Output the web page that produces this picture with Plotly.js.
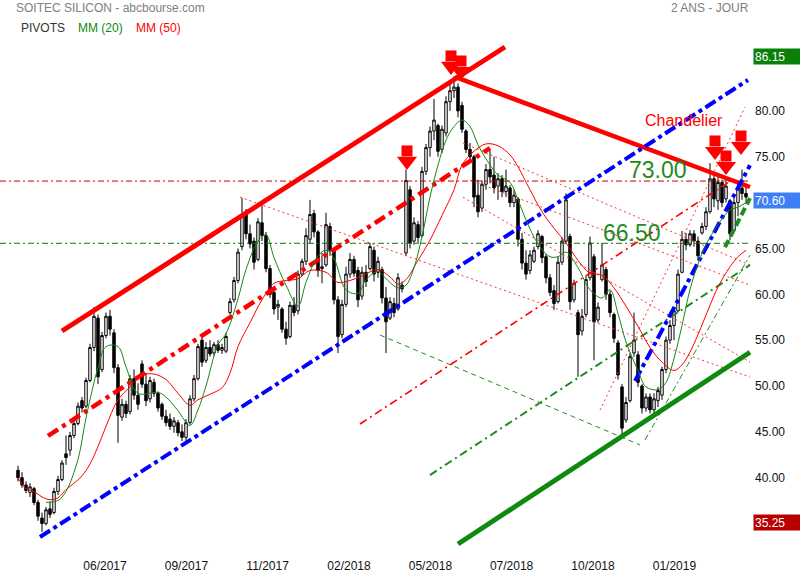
<!DOCTYPE html>
<html>
<head>
<meta charset="utf-8">
<script src="https://cdn.plot.ly/plotly-3.0.1.min.js"></script>
<style>html,body{margin:0;padding:0;background:#fff}#chart{width:800px;height:580px}</style>
</head>
<body>
<div id="chart"></div>
<script>
// ---------- DATA ----------
const tickPos = [21.75, 42.1, 62.4, 82.75, 103.1, 123.4, 143.75, 164.1];
const tickText = ['06/2017','09/2017','11/2017','02/2018','05/2018','07/2018','10/2018','01/2019'];
const priceTicks = [40, 45, 50, 55, 60, 65, 75, 80];

const open = [40.8,40.0,39.2,38.4,38.8,37.3,35.6,35.0,36.6,36.2,38.5,39.8,42.6,43.0,44.6,45.9,48.4,47.8,50.6,54.2,
57.4,51.8,55.5,57.6,55.8,52.0,46.6,48.0,47.2,50.8,49.0,52.4,50.2,48.6,50.4,49.2,48.0,46.7,46.4,45.6,
46.0,45.0,44.4,46.0,48.6,50.8,55.0,52.8,54.2,53.6,54.5,53.9,53.8,58.0,59.4,61.5,65.2,68.9,66.6,65.8,
63.8,67.8,66.4,62.8,60.2,58.6,58.4,56.2,55.4,58.8,58.2,62.2,63.6,66.0,68.8,66.8,62.8,63.2,67.4,64.8,
59.4,55.6,58.9,62.2,63.8,62.6,59.8,62.4,62.8,64.8,62.4,62.7,59.6,57.4,59.0,58.4,61.0,64.5,71.4,65.8,
67.6,66.4,73.4,76.0,77.8,78.4,75.8,77.6,81.0,82.2,82.6,80.6,77.8,75.8,75.0,70.8,69.4,72.0,73.6,73.0,
71.8,72.6,71.2,71.6,70.0,70.4,66.0,63.4,62.6,63.6,65.2,66.3,64.1,61.8,60.4,59.2,63.5,65.8,66.3,59.4,
58.0,56.0,57.8,61.8,64.1,57.2,61.6,62.7,60.0,57.8,54.7,49.9,46.3,48.4,53.6,53.4,50.0,47.6,48.8,47.4,
48.4,49.0,51.8,55.0,56.6,58.2,62.4,66.0,65.4,66.6,65.8,66.7,67.4,69.0,72.6,70.2,72.2,70.4,70.2,67.0,
70.0,71.6,71.0];
const high = [41.3,40.6,39.6,39.4,39.0,37.6,36.2,36.8,37.4,38.9,40.2,41.9,44.6,45.0,46.2,48.2,48.8,50.9,54.6,58.6,
57.8,55.9,58.0,58.3,56.2,52.4,48.6,48.4,51.2,51.8,50.3,52.8,51.4,51.0,50.8,49.4,48.2,47.4,47.0,46.6,
46.3,45.8,46.4,49.0,51.2,54.6,55.3,54.8,55.0,54.8,55.0,54.6,55.8,59.6,61.9,65.0,70.5,69.3,67.6,66.2,
68.3,69.7,66.8,63.2,60.6,59.4,58.6,57.0,59.2,59.7,62.6,63.9,67.2,70.3,69.2,67.0,64.5,68.9,67.8,65.0,
59.8,59.4,63.0,64.5,64.2,63.0,63.0,63.2,65.6,65.2,64.1,63.0,60.8,59.7,59.6,62.3,61.4,73.6,71.8,68.4,
68.0,73.9,76.4,78.3,81.3,78.6,78.4,81.6,83.0,83.8,83.0,81.0,78.0,76.5,75.2,72.5,72.4,74.2,75.7,75.0,
73.2,73.0,73.6,71.9,71.4,70.6,66.7,64.8,64.8,65.2,67.0,66.5,64.4,62.2,61.0,64.1,66.2,71.0,66.6,61.6,
58.3,58.4,62.0,66.3,64.4,59.1,65.6,63.0,60.4,58.0,55.0,50.2,48.8,53.6,58.0,53.8,50.2,49.2,49.2,49.2,
49.9,52.1,55.4,57.2,58.6,62.7,66.9,66.7,67.0,67.0,66.3,67.8,69.5,74.3,73.2,72.8,72.5,72.5,70.4,70.6,
72.1,73.6,71.8];
const low = [39.6,38.9,38.3,37.9,37.0,35.3,34.1,34.8,35.6,36.0,38.1,39.6,41.4,42.4,44.3,45.7,47.1,47.6,50.4,53.8,
50.2,51.5,55.2,55.5,51.4,43.8,46.2,46.5,46.9,48.5,47.4,49.8,47.8,48.2,48.8,47.2,46.3,45.6,45.2,44.9,
44.5,44.0,43.8,45.8,48.3,50.6,52.1,52.5,53.2,53.3,53.6,53.5,53.6,57.8,59.1,61.2,64.8,66.0,65.0,62.7,
63.6,65.8,62.4,59.6,57.8,57.2,55.8,54.5,55.2,57.6,57.8,62.0,63.2,65.6,66.2,61.9,61.2,63.0,64.2,58.9,
53.6,55.2,58.6,61.8,61.9,58.6,59.4,60.8,62.6,61.4,61.8,59.0,53.6,57.2,57.5,58.2,60.2,64.2,65.0,65.4,
65.5,66.2,73.0,75.0,76.8,75.0,75.4,77.2,80.0,81.4,79.3,77.6,75.4,74.3,69.5,68.4,69.0,71.4,72.1,71.0,
70.3,70.6,70.6,69.5,69.5,65.2,62.7,61.6,62.2,63.4,64.9,63.4,61.2,59.8,58.3,59.0,63.2,65.6,58.3,59.1,
51.0,55.5,57.5,61.5,52.8,56.9,61.4,59.4,57.5,54.7,50.7,44.4,46.0,48.2,53.2,49.9,47.0,47.2,47.0,47.0,
47.7,48.5,51.4,54.6,55.0,58.0,62.3,64.8,65.2,65.2,63.7,66.5,67.0,68.8,69.5,69.2,69.5,70.0,65.9,66.8,
68.5,70.3,70.0];
const close = [40.0,39.2,38.6,39.0,37.3,35.8,35.0,36.5,36.0,38.5,39.8,41.6,42.2,44.6,45.9,47.8,47.6,50.6,54.2,57.6,
51.0,55.5,57.6,56.2,52.0,46.8,48.0,47.0,50.8,49.0,48.0,50.2,48.4,50.6,49.2,47.6,46.7,46.0,45.6,46.2,
44.9,44.4,46.0,48.6,50.8,54.3,52.6,54.2,53.5,54.5,53.9,54.2,55.4,59.2,61.5,64.6,68.6,66.6,65.5,63.5,
67.9,66.4,62.8,60.0,58.4,58.9,56.2,55.2,58.8,58.0,62.2,63.6,66.4,68.7,66.8,62.6,63.0,67.6,64.8,59.4,
55.4,58.9,62.2,63.8,62.3,59.4,62.4,61.4,65.2,62.2,63.6,59.6,57.0,59.2,58.0,61.8,60.6,72.4,65.6,67.8,
66.2,73.4,76.0,77.8,79.0,75.6,78.0,81.0,82.2,82.6,80.0,78.0,75.8,75.0,70.6,69.0,72.0,73.6,72.8,71.6,
72.6,71.2,71.8,70.0,70.8,66.0,63.4,62.2,64.3,64.8,66.6,64.0,61.8,60.2,59.0,63.5,65.8,70.3,59.2,61.2,
55.6,57.6,61.6,65.6,57.0,58.6,63.2,60.0,58.0,55.2,51.2,45.4,48.2,53.2,55.0,50.4,47.6,48.8,47.4,48.6,
49.5,51.8,55.0,56.6,58.2,62.2,66.0,65.4,66.6,65.8,64.2,67.4,69.0,72.6,70.4,72.2,70.0,71.8,66.6,70.0,
71.6,71.0,70.6];

// moving averages (bar index, value)
const ma20X = [7,10,12,15,17,20,22,25,27,30,35,37,40,43,45,47,50,52,55,57,60,62,64,67,70,72,75,77,79,82,85,87,90,92,95,97,99,101,103,105,107,109,111,113,115,118,120,123,125,127,130,133,135,137,140,143,146,148,150,152,155,157,160,162,164,166,168,170,172,175,178,180,182];
const ma20 = [37.3,37.5,38.5,42.0,46.5,52.0,54.3,54.3,52.1,49.2,49.3,48.8,47.3,45.7,47.4,50.0,54.5,55.7,59.5,62.7,65.8,66.5,64.0,61.0,58.7,61.3,64.2,64.8,63.9,60.5,60.1,61.6,62.5,61.7,60.7,61.0,62.9,66.3,70.6,74.1,76.8,78.3,79.0,78.3,76.3,74.1,73.0,72.2,70.3,68.1,65.5,64.1,64.1,64.6,62.9,60.5,59.6,60.5,57.9,54.8,51.7,49.9,49.6,50.4,53.0,56.6,60.5,63.3,65.4,67.6,69.2,69.5,70.0];
const ma50X = [0,2,4,6,8,10,12,14,16,18,20,22,25,28,31,34,37,40,43,45,48,51,53,55,58,61,64,67,70,73,77,80,83,86,90,93,95,97,100,103,106,109,111,114,117,120,123,125,128,131,134,137,140,143,146,149,152,155,158,161,164,166,168,170,173,175,178,180,182];
const ma50 = [40.0,38.8,38.5,37.9,37.6,37.8,38.7,39.4,40.2,41.5,43.4,45.6,48.5,49.9,51.2,51.3,50.7,49.2,47.9,48.5,49.1,49.8,51.4,54.3,56.9,59.4,61.2,61.5,61.7,62.6,62.4,61.3,61.5,62.0,62.7,61.9,61.1,61.6,63.7,65.9,68.6,71.4,74.1,75.6,76.4,76.2,75.2,73.9,71.4,69.0,67.2,65.6,63.7,62.3,62.1,60.7,58.7,56.5,54.2,52.6,51.7,52.3,53.7,55.6,58.8,60.8,63.0,64.1,64.8];

// trend lines (bar index / price at both ends)
const trendNames = ['redFan1','redFan2','redFan3','redFan4','redSteep','greenSteep','greenThinDesc','pivot73','pivot66','redMidThin','greenMid','redMid','redUpper','redDown','blueLower','blueSteep','greenBottom','greenShort'];
const trendX0 = [55.5,111.25,113,111.25,145.5,156.75,90.5,-4.5,-4.5,85.5,103,7.5,11,109.25,5.5,154.25,110,176.75];
const trendY0 = [70.59,76.5,72.44,70.59,47.36,44.11,55.56,72.35,65.56,45.86,40.29,44.55,56.0,83.7,33.53,50.55,32.77,65.14];
const trendX1 = [183,183,183,183,181.75,183,155.5,183,183,179.25,183,118,121.75,183,182.5,183,183,183];
const trendY1 = [50.98,63.2,61.0,52.6,80.40,64.26,43.57,72.35,65.56,72.68,63.2,75.95,86.97,71.7,83.37,74.08,53.68,70.48];

// signal arrows (tip position)
const arrowX = [108.25,110.75,97.25,174.25,177,180.75];
const arrowY = [83.92,83.37,73.56,74.65,73.01,75.19];

// price labels on the right
const lastHigh = 86.15, lastPrice = 70.60, lastLow = 35.25;

// ---------- STYLE ----------
const W = 800, H = 580, M = {l:0, r:0, t:38, b:32};
const plotH = H - M.t - M.b;
const Y_MIN = 32.333, Y_MAX = 87.95;
const X_MIN = -4.5, X_MAX = 195.5;
const ppu = plotH / (Y_MAX - Y_MIN);
const FONT = 'Liberation Sans, Arial, sans-serif';
const RED = '#ff0000', GREEN = '#1e8c1e', BLUE = '#0000ff';

const dotted = {color:'#ff3030', width:1, dash:'2px,3px'};
const styles = {
  redFan1:dotted, redFan2:dotted, redFan3:dotted, redFan4:dotted, redSteep:dotted,
  greenSteep:{color:GREEN, width:1, dash:'6px,3px,2px,3px'},
  greenThinDesc:{color:GREEN, width:1, dash:'5px,4px'},
  pivot73:{color:'#cc0000', width:1, dash:'6px,3px,2px,3px'},
  pivot66:{color:'#117711', width:1, dash:'6px,3px,2px,3px'},
  redMidThin:{color:RED, width:1.6, dash:'8px,4px,2px,4px'},
  greenMid:{color:GREEN, width:2, dash:'8px,4px,2px,4px'},
  redMid:{color:RED, width:4.5, dash:'12px,5px,4px,5px'},
  redUpper:{color:RED, width:5, dash:'solid'},
  redDown:{color:RED, width:4.5, dash:'solid'},
  blueLower:{color:BLUE, width:4, dash:'12px,4px,4px,4px'},
  blueSteep:{color:BLUE, width:4, dash:'12px,4px,4px,4px'},
  greenBottom:{color:'#0f8a0f', width:5, dash:'solid'},
  greenShort:{color:GREEN, width:4, dash:'8px,4px'}
};

const idx = open.map((_, i) => i);
const traces = [];

trendNames.forEach((n, k) => {
  traces.push({type:'scatter', mode:'lines', x:[trendX0[k], trendX1[k]], y:[trendY0[k], trendY1[k]],
    line:styles[n], hoverinfo:'skip', showlegend:false});
});

traces.push({type:'scatter', mode:'lines', x:ma50X, y:ma50, line:{color:RED, width:1, shape:'spline'}, hoverinfo:'skip'});
traces.push({type:'scatter', mode:'lines', x:ma20X, y:ma20, line:{color:'#138a13', width:1, shape:'spline'}, hoverinfo:'skip'});

traces.push({type:'candlestick', x:idx, open:open, high:high, low:low, close:close,
  increasing:{line:{color:'#000', width:1}, fillcolor:'#ffffff'},
  decreasing:{line:{color:'#000', width:1}, fillcolor:'#000000'},
  whiskerwidth:0, hoverinfo:'skip', showlegend:false});

// arrows: shaft + head markers positioned from the tip
traces.push({type:'scatter', mode:'markers', x:arrowX, y:arrowY.map(v => v + 19/ppu),
  marker:{symbol:'square', size:11, color:RED, line:{width:0}}, hoverinfo:'skip', cliponaxis:false});
traces.push({type:'scatter', mode:'markers', x:arrowX, y:arrowY.map(v => v + 8.7/ppu),
  marker:{symbol:'triangle-down', size:17.5, color:RED, line:{width:0}}, hoverinfo:'skip', cliponaxis:false});

const px = x => x / W;
const py = y => (H - M.b - y) / plotH;

const annotations = [
  {xref:'paper', yref:'paper', x:px(14), y:py(8), xanchor:'left', yanchor:'middle', showarrow:false,
   text:'SOITEC SILICON - abcbourse.com', font:{family:FONT, size:12, color:'#808080'}},
  {xref:'paper', yref:'paper', x:px(751), y:py(8), xanchor:'right', yanchor:'middle', showarrow:false,
   text:'2 ANS - JOUR', font:{family:FONT, size:12, color:'#808080'}},
  {xref:'paper', yref:'paper', x:px(19), y:py(27.5), xanchor:'left', yanchor:'middle', showarrow:false,
   text:'PIVOTS', font:{family:FONT, size:12, color:'#333333'}},
  {xref:'paper', yref:'paper', x:px(76), y:py(27.5), xanchor:'left', yanchor:'middle', showarrow:false,
   text:'MM (20)', font:{family:FONT, size:12, color:'#118811'}},
  {xref:'paper', yref:'paper', x:px(134), y:py(27.5), xanchor:'left', yanchor:'middle', showarrow:false,
   text:'MM (50)', font:{family:FONT, size:12, color:'#ff0000'}},
  {xref:'x', yref:'y', x:166.5, y:79.0, showarrow:false, text:'Chandelier',
   font:{family:FONT, size:16, color:RED}},
  {xref:'x', yref:'y', x:160, y:73.54, showarrow:false, text:'73.00',
   font:{family:FONT, size:23, color:GREEN}},
  {xref:'x', yref:'y', x:153.4, y:66.68, showarrow:false, text:'66.50',
   font:{family:FONT, size:23, color:GREEN}},
  {xref:'paper', yref:'y', x:px(753), y:lastHigh, yshift:-2, xanchor:'left', yanchor:'middle', showarrow:false,
   text:lastHigh.toFixed(2), align:'left', width:44, height:13, bgcolor:'#0a800a', borderpad:1,
   font:{family:FONT, size:12, color:'#ffffff'}},
  {xref:'paper', yref:'y', x:px(753), y:lastPrice, yshift:-3.5, xanchor:'left', yanchor:'middle', showarrow:false,
   text:lastPrice.toFixed(2), align:'left', width:44, height:13, bgcolor:'#3f7ff5', borderpad:1,
   font:{family:FONT, size:12, color:'#ffffff'}},
  {xref:'paper', yref:'y', x:px(753), y:lastLow, yshift:-1, xanchor:'left', yanchor:'middle', showarrow:false,
   text:lastLow.toFixed(2), align:'left', width:44, height:13, bgcolor:'#b80000', borderpad:1,
   font:{family:FONT, size:12, color:'#ffffff'}}
];

const layout = {
  width:W, height:H, margin:M, showlegend:false, boxgap:0.12,
  paper_bgcolor:'#ffffff', plot_bgcolor:'#ffffff',
  xaxis:{range:[X_MIN, X_MAX], showgrid:false, zeroline:false, showline:false, ticks:'',
    tickvals:tickPos, ticktext:tickText, tickfont:{family:FONT, size:12, color:'#111'},
    ticklabelstandoff:9, rangeslider:{visible:false}, fixedrange:true, automargin:false},
  yaxis:{range:[Y_MIN, Y_MAX], side:'right', ticklabelposition:'inside', showgrid:false, zeroline:false,
    showline:false, ticks:'', tickvals:priceTicks, ticktext:priceTicks.map(v => v.toFixed(2)),
    tickfont:{family:FONT, size:12, color:'#111'}, ticklabelstandoff:12, fixedrange:true, automargin:false},
  annotations:annotations
};

Plotly.newPlot('chart', traces, layout, {displayModeBar:false, staticPlot:true});
</script>
</body>
</html>
